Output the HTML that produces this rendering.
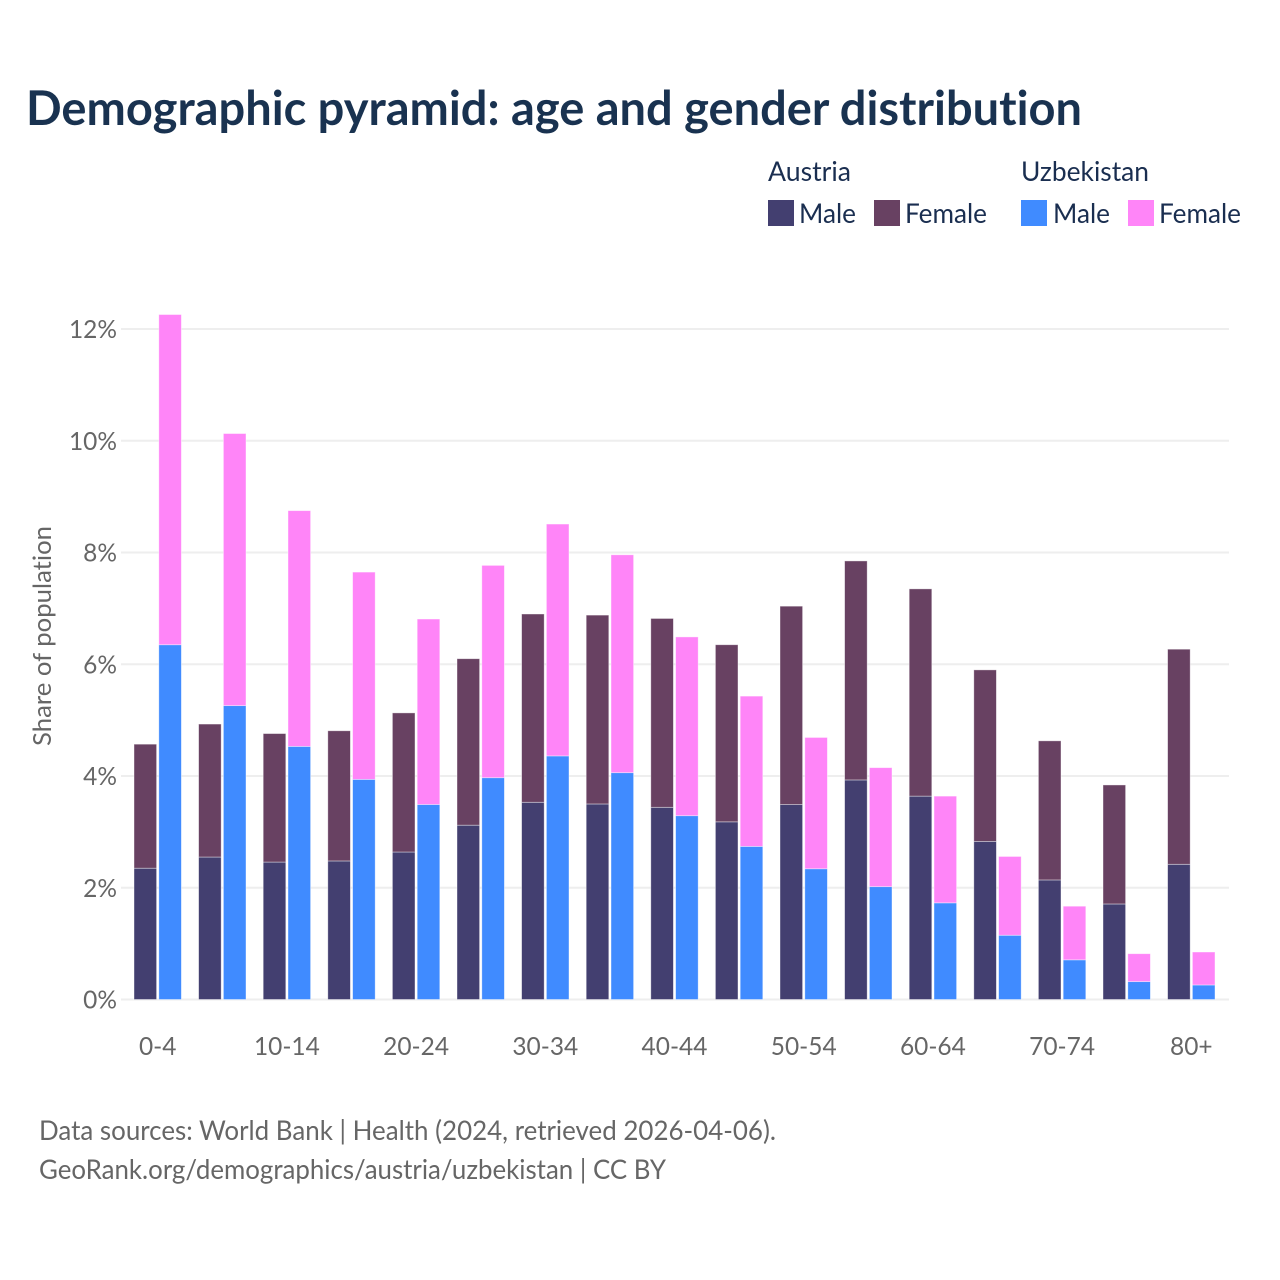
<!DOCTYPE html>
<html lang="en">
<head>
<meta charset="utf-8">
<title>Demographic pyramid</title>
<style>
html,body{margin:0;padding:0;background:#fff;width:1280px;height:1280px;overflow:hidden}
svg{display:block}
text{font-family:"Lato","Carlito","Liberation Sans",sans-serif;font-variant-ligatures:none}
</style>
</head>
<body>
<svg id="chart" xmlns="http://www.w3.org/2000/svg" width="1280" height="1280" viewBox="0 0 1280 1280">
<rect width="1280" height="1280" fill="#fff"/>
<text x="26" y="125" font-size="47.5" font-weight="700" fill="#193250" textLength="1056" lengthAdjust="spacingAndGlyphs">Demographic pyramid: age and gender distribution</text>
<g font-size="27" fill="#1a2e50">
<text x="768" y="181" textLength="83" lengthAdjust="spacingAndGlyphs">Austria</text>
<text x="1021" y="181" textLength="128" lengthAdjust="spacingAndGlyphs">Uzbekistan</text>
<rect x="768" y="200" width="26" height="26" fill="#433f70"/>
<text x="799" y="223" textLength="57" lengthAdjust="spacingAndGlyphs">Male</text>
<rect x="874" y="200" width="26" height="26" fill="#684162"/>
<text x="905" y="223" textLength="82" lengthAdjust="spacingAndGlyphs">Female</text>
<rect x="1021" y="200" width="26" height="26" fill="#408bff"/>
<text x="1053" y="223" textLength="57" lengthAdjust="spacingAndGlyphs">Male</text>
<rect x="1128" y="200" width="26" height="26" fill="#ff85f8"/>
<text x="1159" y="223" textLength="82" lengthAdjust="spacingAndGlyphs">Female</text>
</g>
<g id="grid"></g>
<g id="bars"></g>
<g id="yticks"></g>
<g id="xticks"></g>
<text transform="translate(51,636) rotate(-90)" text-anchor="middle" font-size="25.5" fill="#666" textLength="220" lengthAdjust="spacingAndGlyphs">Share of population</text>
<text x="39" y="1140" font-size="27" fill="#666" textLength="737" lengthAdjust="spacingAndGlyphs">Data sources: World Bank | Health (2024, retrieved 2026-04-06).</text>
<text x="39" y="1179" font-size="27" fill="#666" textLength="627" lengthAdjust="spacingAndGlyphs">GeoRank.org/demographics/austria/uzbekistan | CC BY</text>
</svg>
<script>
const categories = ['0-4','5-9','10-14','15-19','20-24','25-29','30-34','35-39','40-44','45-49','50-54','55-59','60-64','65-69','70-74','75-79','80+'];
const austriaMale = [2.35,2.55,2.46,2.48,2.64,3.12,3.53,3.50,3.44,3.18,3.49,3.93,3.64,2.83,2.14,1.71,2.42];
const austriaFemale = [2.22,2.38,2.30,2.33,2.49,2.98,3.37,3.38,3.38,3.17,3.55,3.92,3.71,3.07,2.49,2.13,3.85];
const uzbekistanMale = [6.35,5.26,4.53,3.94,3.49,3.97,4.36,4.06,3.29,2.74,2.34,2.02,1.73,1.15,0.71,0.32,0.26];
const uzbekistanFemale = [5.91,4.87,4.22,3.71,3.32,3.80,4.15,3.90,3.20,2.69,2.35,2.13,1.91,1.41,0.96,0.50,0.59];
const yTickValues = [0,2,4,6,8,10,12];
const xTickLabels = ['0-4','10-14','20-24','30-34','40-44','50-54','60-64','70-74','80+'];

const NS = 'http://www.w3.org/2000/svg';
const yScale = v => 999.5 - v * 55.87;
const groupLeft = i => 134 + i * 64.6;
const barWidth = 22.6;
const barOffset = 24.8;

function make(tag, parentId, attrs) {
  const el = document.createElementNS(NS, tag);
  for (const k in attrs) el.setAttribute(k, attrs[k]);
  document.getElementById(parentId).appendChild(el);
  return el;
}

function narrow(label) {
  label.setAttribute('textLength', label.getComputedTextLength() * 0.96);
  label.setAttribute('lengthAdjust', 'spacingAndGlyphs');
}

yTickValues.forEach(v => {
  const line = make('line', 'grid', {x1: 121, x2: 1229, y1: yScale(v), y2: yScale(v), stroke: '#eeeeee', 'stroke-width': 2});
  
  
  const label = make('text', 'yticks', {x: 117, y: yScale(v) + 9, 'text-anchor': 'end', 'font-size': 25.5, fill: '#666'});
  label.textContent = v + '%';
  
  
  narrow(label);
});

function drawBar(x, base, value, fill, name) {
  const top = yScale(base + value);
  const bottom = yScale(base);
  const rect = make('rect', 'bars', {x: x, y: top, width: barWidth, height: bottom - top, fill: fill, stroke: '#fff', 'stroke-opacity': 0.5, 'stroke-width': 0.8});
  
  
}

categories.forEach((c, i) => {
  const x0 = groupLeft(i);
  drawBar(x0, 0, austriaMale[i], '#433f70', 'bar-austria-male-' + c);
  drawBar(x0, austriaMale[i], austriaFemale[i], '#684162', 'bar-austria-female-' + c);
  drawBar(x0 + barOffset, 0, uzbekistanMale[i], '#408bff', 'bar-uzbekistan-male-' + c);
  drawBar(x0 + barOffset, uzbekistanMale[i], uzbekistanFemale[i], '#ff85f8', 'bar-uzbekistan-female-' + c);
});

xTickLabels.forEach(c => {
  const i = categories.indexOf(c);
  const label = make('text', 'xticks', {x: groupLeft(i) + 23.7, y: 1055, 'text-anchor': 'middle', 'font-size': 25.5, fill: '#666'});
  label.textContent = c;
  
  
  narrow(label);
});
</script>
</body>
</html>
